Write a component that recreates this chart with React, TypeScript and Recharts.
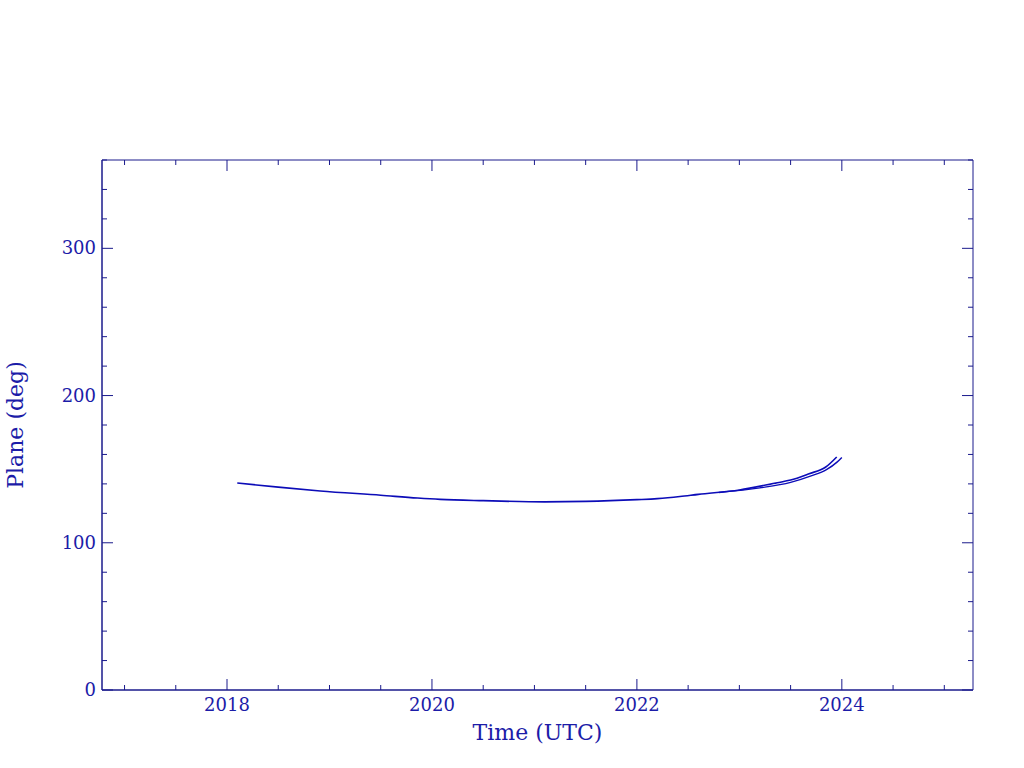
import React from "react";
import { LineChart, Line, XAxis, YAxis, ReferenceArea } from "recharts";

// ---- data ----
const YEARS_A = [2018.1, 2018.5, 2018.91, 2019.5, 2019.86, 2020.08, 2020.5, 2021.1, 2021.5, 2022.0, 2022.2, 2022.42, 2022.6, 2023.0, 2023.37, 2023.5, 2023.68, 2023.84, 2023.95];
const PLANE_A = [140.6, 137.8, 135.2, 132.3, 130.4, 129.5, 128.6, 127.8, 128.1, 129.3, 130.0, 131.4, 132.9, 135.9, 140.8, 142.6, 146.9, 151.3, 158.3];

const YEARS_B = [2022.8, 2023.2, 2023.5, 2023.7, 2023.85, 2023.95, 2024.0];
const PLANE_B = [134.2, 137.3, 141.0, 145.4, 149.7, 154.6, 158.0];

const X_TICKS = [2017, 2017.5, 2018, 2018.5, 2019, 2019.5, 2020, 2020.5, 2021, 2021.5, 2022, 2022.5, 2023, 2023.5, 2024, 2024.5, 2025];
const X_LABELS = [2018, 2020, 2022, 2024];
const Y_TICKS = [0, 20, 40, 60, 80, 100, 120, 140, 160, 180, 200, 220, 240, 260, 280, 300, 320, 340, 360];
const Y_LABELS = [0, 100, 200, 300];

const X_DOMAIN: [number, number] = [2016.78, 2025.28];
const Y_DOMAIN: [number, number] = [0, 360];

// ---- style / layout ----
const W = 1024;
const H = 768;
const MARGIN = { top: 160, right: 51, left: 0, bottom: 0 };
const Y_AXIS_W = 102;
const X_AXIS_H = 78;
const PLOT_W = W - MARGIN.right - Y_AXIS_W;
const PLOT_H = H - MARGIN.top - X_AXIS_H;
const AXIS_COLOR = "#1a1a8c";
const TEXT_COLOR = "#1c1ca8";
const LINE_COLOR = "#0c0cb8";
const FONT = "'DejaVu Serif', serif";
const MAJOR = 11;
const MINOR = 5;

const dataA = YEARS_A.map((t, i) => ({ t, v: PLANE_A[i] }));
const dataB = YEARS_B.map((t, i) => ({ t, v: PLANE_B[i] }));

const XTick = (props: any) => {
  const { x, y, payload } = props;
  const isMajor = X_LABELS.includes(payload.value);
  const len = isMajor ? MAJOR : MINOR;
  return (
    <g>
      <line x1={x} y1={y} x2={x} y2={y - len} stroke={AXIS_COLOR} strokeWidth={1} />
      <line x1={x} y1={y - PLOT_H} x2={x} y2={y - PLOT_H + len} stroke={AXIS_COLOR} strokeWidth={1} />
      {isMajor && (
        <text x={x} y={y + 21} textAnchor="middle" fill={TEXT_COLOR} fontSize={18} fontFamily={FONT}>
          {payload.value}
        </text>
      )}
    </g>
  );
};

const YTick = (props: any) => {
  const { x, y, payload } = props;
  const isMajor = Y_LABELS.includes(payload.value);
  const len = isMajor ? MAJOR : MINOR;
  return (
    <g>
      <line x1={x} y1={y} x2={x + len} y2={y} stroke={AXIS_COLOR} strokeWidth={1} />
      <line x1={x + PLOT_W} y1={y} x2={x + PLOT_W - len} y2={y} stroke={AXIS_COLOR} strokeWidth={1} />
      {isMajor && (
        <text x={x - 6} y={y + 6} textAnchor="end" fill={TEXT_COLOR} fontSize={18} fontFamily={FONT}>
          {payload.value}
        </text>
      )}
    </g>
  );
};

const XTitle = (props: any) => {
  const vb = props.viewBox;
  return (
    <text x={vb.x + vb.width / 2} y={vb.y + 50} textAnchor="middle" fill={TEXT_COLOR} fontSize={22} fontFamily={FONT}>
      Time (UTC)
    </text>
  );
};

const YTitle = (props: any) => {
  const vb = props.viewBox;
  const cx = vb.x + 23;
  const cy = vb.y + vb.height / 2;
  return (
    <text x={cx} y={cy} transform={`rotate(-90, ${cx}, ${cy})`} textAnchor="middle" fill={TEXT_COLOR} fontSize={22} fontFamily={FONT}>
      Plane (deg)
    </text>
  );
};

export default function App() {
  return (
    <div style={{ position: "absolute", left: 0, top: 0, width: W, height: H, background: "#fff" }}>
      <LineChart width={W} height={H} margin={MARGIN}>
        <XAxis
          dataKey="t"
          type="number"
          domain={X_DOMAIN}
          ticks={X_TICKS}
          interval={0}
          allowDataOverflow
          height={X_AXIS_H}
          tickSize={0}
          tickMargin={0}
          tickLine={false}
          axisLine={{ stroke: AXIS_COLOR }}
          tick={<XTick />}
          label={{ content: <XTitle /> }}
        />
        <YAxis
          type="number"
          domain={Y_DOMAIN}
          ticks={Y_TICKS}
          interval={0}
          allowDataOverflow
          width={Y_AXIS_W}
          tickSize={0}
          tickMargin={0}
          tickLine={false}
          axisLine={{ stroke: AXIS_COLOR }}
          tick={<YTick />}
          label={{ content: <YTitle /> }}
        />
        <ReferenceArea x1={X_DOMAIN[0]} x2={X_DOMAIN[1]} y1={Y_DOMAIN[0]} y2={Y_DOMAIN[1]} fill="none" stroke={AXIS_COLOR} strokeWidth={1} fillOpacity={0} />
        <Line data={dataA} dataKey="v" type="monotone" stroke={LINE_COLOR} strokeWidth={1.6} dot={false} isAnimationActive={false} />
        <Line data={dataB} dataKey="v" type="monotone" stroke={LINE_COLOR} strokeWidth={1.4} dot={false} isAnimationActive={false} />
      </LineChart>
    </div>
  );
}
